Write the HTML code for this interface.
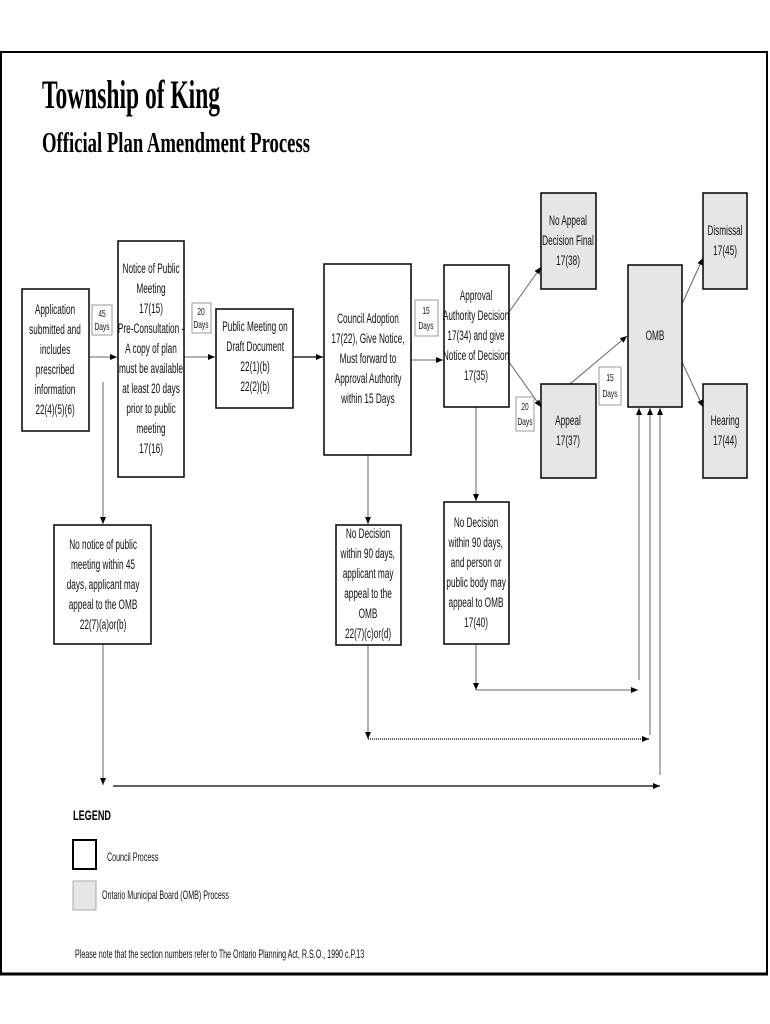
<!DOCTYPE html>
<html><head><meta charset="utf-8"><style>
html,body{margin:0;padding:0;background:#fff;width:770px;height:1024px;overflow:hidden}
svg{display:block}
.t{font-family:"Liberation Sans",sans-serif;font-size:13.5px;fill:#111;text-anchor:middle;transform-box:fill-box;transform-origin:center;transform:scaleX(0.61)}
.s{font-family:"Liberation Sans",sans-serif;font-size:10px;fill:#111;text-anchor:middle;transform-box:fill-box;transform-origin:center;transform:scaleX(0.66)}
.lg{font-family:"Liberation Sans",sans-serif;font-size:11.5px;fill:#111;transform-box:fill-box;transform-origin:left;transform:scaleX(0.62)}
.b{fill:#fff;stroke:#000;stroke-width:1.5}
.g{fill:#e6e6e6;stroke:#000;stroke-width:1.5}
.d{fill:#fff;stroke:#999;stroke-width:1}
.l{stroke:#666;stroke-width:1;fill:none}
.k{stroke:#000;stroke-width:1.3;fill:none}
</style></head><body>
<svg width="770" height="1024" viewBox="0 0 770 1024" xmlns="http://www.w3.org/2000/svg">
<defs><marker id="a" markerWidth="8" markerHeight="8" refX="7" refY="4" orient="auto" markerUnits="userSpaceOnUse"><path d="M0,1 L7,4 L0,7 z" fill="#000"/></marker></defs>
<rect x="1" y="52" width="766" height="922" fill="none" stroke="#000" stroke-width="2"/>
<line x1="0" y1="974" x2="768" y2="974" stroke="#000" stroke-width="3"/>
<text x="42" y="108" textLength="178" lengthAdjust="spacingAndGlyphs" style="font-family:'Liberation Serif',serif;font-weight:bold;font-size:40px">Township of King</text>
<text x="42" y="152" textLength="268" lengthAdjust="spacingAndGlyphs" style="font-family:'Liberation Serif',serif;font-weight:bold;font-size:28px">Official Plan Amendment Process</text>

<line class="l" x1="89" y1="357" x2="117" y2="357" marker-end="url(#a)"/>
<line class="l" x1="184" y1="357" x2="215" y2="357" marker-end="url(#a)"/>
<line class="k" x1="293" y1="357" x2="323" y2="357" marker-end="url(#a)"/>
<line class="l" x1="411" y1="360" x2="443" y2="360" marker-end="url(#a)"/>
<line class="l" x1="509" y1="312" x2="541" y2="267" marker-end="url(#a)"/>
<line class="l" x1="509" y1="362" x2="541" y2="407" marker-end="url(#a)"/>
<line class="l" x1="570" y1="384" x2="627" y2="336" marker-end="url(#a)"/>
<line class="l" x1="682" y1="304" x2="703" y2="258" marker-end="url(#a)"/>
<line class="l" x1="682" y1="362" x2="703" y2="407" marker-end="url(#a)"/>

<line class="l" x1="103" y1="382" x2="103" y2="524" marker-end="url(#a)"/>
<line class="l" x1="103" y1="644" x2="103" y2="785" marker-end="url(#a)"/>
<line class="k" x1="113" y1="786" x2="660" y2="786" marker-end="url(#a)"/>
<line class="l" x1="660" y1="775" x2="660" y2="408" marker-end="url(#a)"/>

<line class="l" x1="368" y1="455" x2="368" y2="524" marker-end="url(#a)"/>
<line class="l" x1="368" y1="645" x2="368" y2="739" marker-end="url(#a)"/>
<line class="k" x1="368" y1="739" x2="649" y2="739" marker-end="url(#a)" stroke-dasharray="1 1"/>
<line class="l" x1="650" y1="735" x2="650" y2="408" marker-end="url(#a)"/>

<line class="l" x1="476" y1="407" x2="476" y2="501" marker-end="url(#a)"/>
<line class="l" x1="476" y1="644" x2="476" y2="690" marker-end="url(#a)"/>
<line class="l" x1="476" y1="690" x2="638" y2="690" marker-end="url(#a)"/>
<line class="l" x1="639" y1="680" x2="639" y2="408" marker-end="url(#a)"/>

<rect class="b" x="22" y="289" width="67" height="142"/>
<text class="t" x="55" y="314">Application</text><text class="t" x="55" y="334">submitted and</text><text class="t" x="55" y="354">includes</text><text class="t" x="55" y="374">prescribed</text><text class="t" x="55" y="394">information</text><text class="t" x="55" y="414">22(4)(5)(6)</text>

<rect class="d" x="92" y="305" width="20" height="30"/>
<text class="s" x="102" y="317">45</text><text class="s" x="102" y="330">Days</text>

<rect class="b" x="118" y="241" width="66" height="236"/>
<text class="t" x="151" y="273">Notice of Public</text><text class="t" x="151" y="293">Meeting</text><text class="t" x="151" y="313">17(15)</text><text class="t" x="151" y="333">Pre-Consultation -</text><text class="t" x="151" y="353">A copy of plan</text><text class="t" x="151" y="373">must be available</text><text class="t" x="151" y="393">at least 20 days</text><text class="t" x="151" y="413">prior to public</text><text class="t" x="151" y="433">meeting</text><text class="t" x="151" y="453">17(16)</text>

<rect class="d" x="192" y="303" width="19" height="30"/>
<text class="s" x="201" y="315">20</text><text class="s" x="201" y="328">Days</text>

<rect class="b" x="216" y="309" width="77" height="99"/>
<text class="t" x="255" y="331">Public Meeting on</text><text class="t" x="255" y="351">Draft Document</text><text class="t" x="255" y="371">22(1)(b)</text><text class="t" x="255" y="391">22(2)(b)</text>

<rect class="b" x="324" y="264" width="87" height="191"/>
<text class="t" x="368" y="323">Council Adoption</text><text class="t" x="368" y="343">17(22), Give Notice,</text><text class="t" x="368" y="363">Must forward to</text><text class="t" x="368" y="383">Approval Authority</text><text class="t" x="368" y="403">within 15 Days</text>

<rect class="d" x="415" y="300" width="23" height="36"/>
<text class="s" x="426" y="314">15</text><text class="s" x="426" y="329">Days</text>

<rect class="b" x="444" y="265" width="65" height="142"/>
<text class="t" x="476" y="300">Approval</text><text class="t" x="476" y="320">Authority Decision</text><text class="t" x="476" y="340">17(34) and give</text><text class="t" x="476" y="360">Notice of Decision</text><text class="t" x="476" y="380">17(35)</text>

<rect class="g" x="541" y="193" width="55" height="96"/>
<text class="t" x="568" y="225">No Appeal</text><text class="t" x="568" y="245">Decision Final</text><text class="t" x="568" y="265">17(38)</text>

<rect class="d" x="516" y="397" width="18" height="34"/>
<text class="s" x="525" y="410">20</text><text class="s" x="525" y="425">Days</text>

<rect class="g" x="541" y="384" width="55" height="94"/>
<text class="t" x="568" y="425">Appeal</text><text class="t" x="568" y="445">17(37)</text>

<rect class="d" x="599" y="367" width="22" height="38"/>
<text class="s" x="610" y="381">15</text><text class="s" x="610" y="397">Days</text>

<rect class="g" x="628" y="265" width="54" height="142"/>
<text class="t" x="655" y="340">OMB</text>

<rect class="g" x="703" y="193" width="44" height="96"/>
<text class="t" x="725" y="235">Dismissal</text><text class="t" x="725" y="255">17(45)</text>

<rect class="g" x="703" y="384" width="44" height="94"/>
<text class="t" x="725" y="425">Hearing</text><text class="t" x="725" y="445">17(44)</text>

<rect class="b" x="54" y="525" width="97" height="119"/>
<text class="t" x="103" y="549">No notice of public</text><text class="t" x="103" y="569">meeting within 45</text><text class="t" x="103" y="589">days, applicant may</text><text class="t" x="103" y="609">appeal to the OMB</text><text class="t" x="103" y="629">22(7)(a)or(b)</text>

<rect class="b" x="336" y="525" width="65" height="120"/>
<text class="t" x="368" y="538">No Decision</text><text class="t" x="368" y="558">within 90 days,</text><text class="t" x="368" y="578">applicant may</text><text class="t" x="368" y="598">appeal to the</text><text class="t" x="368" y="618">OMB</text><text class="t" x="368" y="638">22(7)(c)or(d)</text>

<rect class="b" x="444" y="502" width="65" height="142"/>
<text class="t" x="476" y="527">No Decision</text><text class="t" x="476" y="547">within 90 days,</text><text class="t" x="476" y="567">and person or</text><text class="t" x="476" y="587">public body may</text><text class="t" x="476" y="607">appeal to OMB</text><text class="t" x="476" y="627">17(40)</text>

<text x="73" y="820" textLength="38" lengthAdjust="spacingAndGlyphs" style="font-family:'Liberation Sans',sans-serif;font-weight:bold;font-size:14px">LEGEND</text>
<rect x="73" y="840" width="23" height="29" fill="#fff" stroke="#000" stroke-width="2"/>
<text class="lg" x="107" y="861">Council Process</text>
<rect x="73" y="881" width="23" height="29" fill="#e6e6e6" stroke="#aaa" stroke-width="1"/>
<text class="lg" x="102" y="899">Ontario Municipal Board (OMB) Process</text>
<text class="lg" x="75" y="958">Please note that the section numbers refer to The Ontario Planning Act, R.S.O., 1990 c.P.13</text>
</svg>
</body></html>
